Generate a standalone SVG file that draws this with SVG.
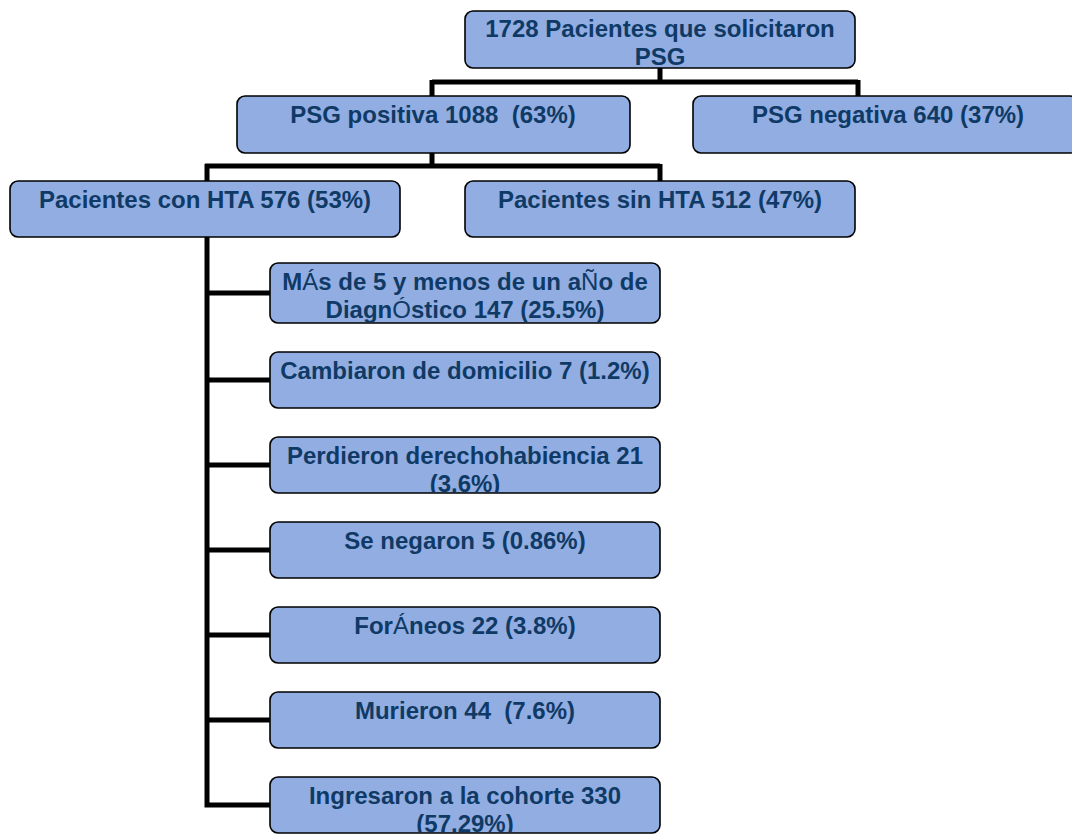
<svg xmlns="http://www.w3.org/2000/svg" width="1072" height="836" viewBox="0 0 1072 836">
<style>
.box{fill:#92ADE1;stroke:#000;stroke-width:1.6}
.t{font-family:"Liberation Sans",Arial,sans-serif;font-weight:bold;font-size:24px;fill:#0F3A66;text-anchor:middle;white-space:pre}
.c{fill:none;stroke:#000;stroke-width:5;stroke-linejoin:miter}
.acc{font-weight:normal}
</style>
<defs>
<clipPath id="cp1"><rect x="270" y="263" width="390" height="59"/></clipPath>
<clipPath id="cp3"><rect x="270" y="437" width="390" height="55"/></clipPath>
<clipPath id="cp7"><rect x="270" y="777" width="390" height="55"/></clipPath>
</defs>
<rect width="1072" height="836" fill="#fff"/>
<g id="connectors">
<path class="c" d="M660 68V82M432 82H858M432 80V96M858 80V96"/>
<path class="c" d="M432 153V166M205 166H660M207 164V181M660 164V181"/>
<path class="c" d="M207 237V805H270M205 293H270M205 380H270M205 465H270M205 550H270M205 635H270M205 720H270"/>
</g>
<g id="n-top"><rect class="box" x="465" y="11" width="390" height="57" rx="8"/>
<text class="t" x="660" y="37">1728 Pacientes que solicitaron</text><text class="t" x="660" y="65">PSG</text></g>
<g id="n-pos"><rect class="box" x="237" y="96" width="393" height="57" rx="8"/><text class="t" x="433" y="123">PSG positiva 1088  (63%)</text></g>
<g id="n-neg"><rect class="box" x="693" y="96" width="385" height="57" rx="8"/><text class="t" x="888" y="123">PSG negativa 640 (37%)</text></g>
<g id="n-hta"><rect class="box" x="10" y="181" width="390" height="56" rx="8"/><text class="t" x="205" y="208">Pacientes con HTA 576 (53%)</text></g>
<g id="n-sinhta"><rect class="box" x="465" y="181" width="390" height="56" rx="8"/><text class="t" x="660" y="208">Pacientes sin HTA 512 (47%)</text></g>
<g id="n-diag"><rect class="box" x="270" y="263" width="390" height="60" rx="8"/>
<g clip-path="url(#cp1)"><text class="t" x="465" y="290">M<tspan class="acc">Á</tspan>s de 5 y menos de un a<tspan class="acc">Ñ</tspan>o de</text><text class="t" x="465" y="318">Diagn<tspan class="acc">Ó</tspan>stico 147 (25.5%)</text></g></g>
<g id="n-dom"><rect class="box" x="270" y="352" width="390" height="56" rx="8"/><text class="t" x="465" y="379">Cambiaron de domicilio 7 (1.2%)</text></g>
<g id="n-der"><rect class="box" x="270" y="437" width="390" height="56" rx="8"/>
<g clip-path="url(#cp3)"><text class="t" x="465" y="464">Perdieron derechohabiencia 21</text><text class="t" x="465" y="492">(3.6%)</text></g></g>
<g id="n-neg5"><rect class="box" x="270" y="522" width="390" height="56" rx="8"/><text class="t" x="465" y="549">Se negaron 5 (0.86%)</text></g>
<g id="n-for"><rect class="box" x="270" y="607" width="390" height="56" rx="8"/><text class="t" x="465" y="634">For<tspan class="acc">Á</tspan>neos 22 (3.8%)</text></g>
<g id="n-mur"><rect class="box" x="270" y="692" width="390" height="56" rx="8"/><text class="t" x="465" y="719">Murieron 44  (7.6%)</text></g>
<g id="n-coh"><rect class="box" x="270" y="777" width="390" height="56" rx="8"/>
<g clip-path="url(#cp7)"><text class="t" x="465" y="804">Ingresaron a la cohorte 330</text><text class="t" x="465" y="832">(57.29%)</text></g></g>
</svg>
